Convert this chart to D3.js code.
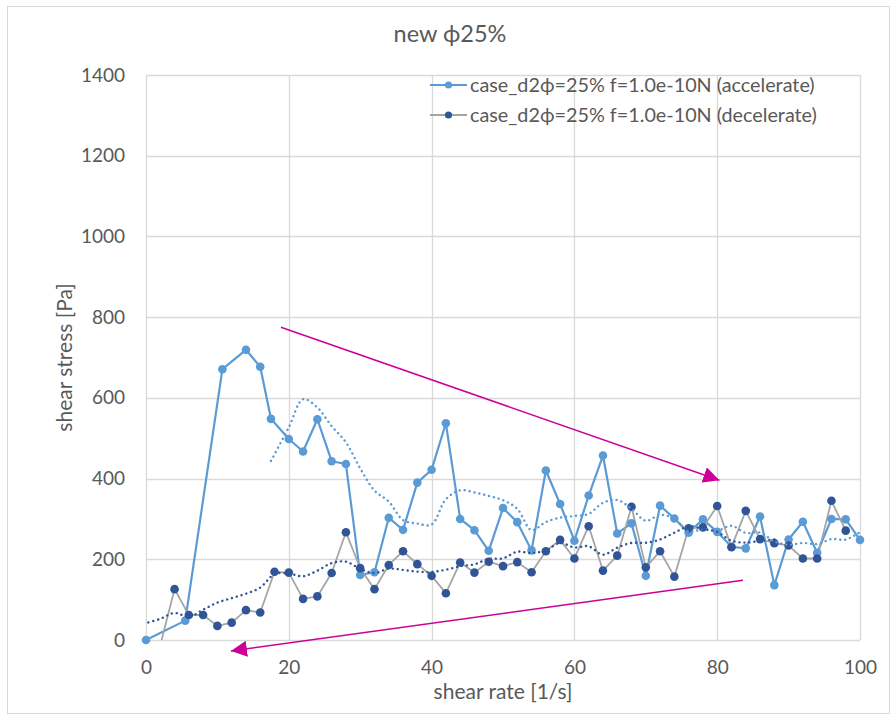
<!DOCTYPE html>
<html>
<head>
<meta charset="utf-8">
<script src="https://cdn.jsdelivr.net/npm/d3@7"></script>
<style>
  html, body { margin: 0; padding: 0; background: #fff; }
  svg text { font-family: Lato, "Open Sans", sans-serif; fill: #595959; }
</style>
</head>
<body>
<svg id="chart" width="891" height="715"></svg>
<script>
// Shear rate [1/s] and shear stress [Pa], accelerate run (in run order)
const accelRate = [0, 5.5, 10.7, 14.0, 16.0, 17.5, 20, 22, 24, 26, 28, 30, 32, 34, 36, 38, 40, 42, 44, 46,
  48, 50, 52, 54, 56, 58, 60, 62, 64, 66, 68, 70, 72, 74, 76, 78, 80, 82, 84, 86, 88, 90, 92, 94, 96, 98, 100];
const accelStress = [0, 48, 671, 719, 677, 548, 498, 467, 547, 443, 436, 161, 168, 303, 273, 390, 422, 537, 300, 272,
  221, 327, 292, 222, 420, 337, 246, 358, 457, 264, 289, 159, 333, 301, 266, 299, 268, 231, 227, 306, 136, 249, 293, 216, 300, 299, 248];

// Decelerate run (in run order, high shear rate to low)
const decelRate = [98, 96, 94, 92, 90, 88, 86, 84, 82, 80, 78, 76, 74, 72, 70, 68, 66, 64, 62, 60,
  58, 56, 54, 52, 50, 48, 46, 44, 42, 40, 38, 36, 34, 32, 30, 28, 26, 24, 22, 20,
  18, 16, 14, 12, 10, 8, 6, 4, 2, 0];
const decelStress = [271, 345, 202, 202, 234, 240, 250, 320, 230, 332, 279, 277, 157, 220, 180, 330, 209, 172, 282, 202,
  248, 220, 168, 193, 183, 194, 167, 192, 116, 159, 188, 220, 186, 126, 178, 267, 166, 108, 102, 167,
  169, 68, 74, 43, 35, 62, 62, 126, -13, -20];

const seriesNames = ["case_d2\u03d5=25% f=1.0e-10N (accelerate)", "case_d2\u03d5=25% f=1.0e-10N (decelerate)"];
const chartTitle = "new \u03d525%";
const xTitle = "shear rate [1/s]";
const yTitle = "shear stress [Pa]";
const xTicks = [0, 20, 40, 60, 80, 100];
const yTicks = [0, 200, 400, 600, 800, 1000, 1200, 1400];
const maPeriod = 6;

// Annotation arrows, given in data units: [fromRate, fromStress, toRate, toStress]
const arrows = [
  [18.9, 775, 80.3, 396],
  [83.6, 148, 11.9, -27]
];

const accelColor = "#5B9BD5";
const decelMarker = "#2F5597";
const decelLine = "#A5A5A5";
const arrowColor = "#CC0099";

const svg = d3.select("#chart");
const plot = { left: 146, right: 860, top: 75, bottom: 640 };
const x = d3.scaleLinear().domain([0, 100]).range([plot.left, plot.right]);
const y = d3.scaleLinear().domain([0, 1400]).range([plot.bottom, plot.top]);

// chart frame
svg.append("rect").attr("x", 7.5).attr("y", 6.5).attr("width", 882).attr("height", 707)
  .attr("fill", "#fff").attr("stroke", "#D9D9D9").attr("stroke-width", 1);

// gridlines
const grid = svg.append("g");
grid.selectAll("line.h").data(yTicks).join("line")
  .attr("x1", plot.left).attr("x2", plot.right)
  .attr("y1", d => Math.round(y(d)) + 0.5).attr("y2", d => Math.round(y(d)) + 0.5)
  .attr("stroke", "#D9D9D9").attr("stroke-width", 1.3);
grid.selectAll("line.v").data(xTicks).join("line")
  .attr("y1", plot.top).attr("y2", plot.bottom)
  .attr("x1", d => Math.round(x(d)) + 0.5).attr("x2", d => Math.round(x(d)) + 0.5)
  .attr("stroke", "#D9D9D9").attr("stroke-width", 1.3);

// axes (labels only)
const yAxis = svg.append("g").attr("transform", `translate(${plot.left},0)`)
  .call(d3.axisLeft(y).tickValues(yTicks).tickFormat(d3.format("d")).tickSize(0).tickPadding(21));
const xAxis = svg.append("g").attr("transform", `translate(0,${plot.bottom})`)
  .call(d3.axisBottom(x).tickValues(xTicks).tickFormat(d3.format("d")).tickSize(0).tickPadding(21));
[yAxis, xAxis].forEach(a => {
  a.select(".domain").remove();
  a.selectAll("text").attr("font-size", 19).attr("fill", "#595959")
    .style("font-family", "Lato, 'Open Sans', sans-serif");
});

// titles
svg.append("text").attr("x", 450).attr("y", 42).attr("text-anchor", "middle")
  .attr("font-size", 23.5).text(chartTitle);
svg.append("text").attr("x", (plot.left + plot.right) / 2).attr("y", 699).attr("text-anchor", "middle")
  .attr("font-size", 21).text(xTitle);
svg.append("text").attr("transform", `translate(72,${(plot.top + plot.bottom) / 2}) rotate(-90)`)
  .attr("text-anchor", "middle").attr("font-size", 21).text(yTitle);

// clip for connecting lines
svg.append("defs").append("clipPath").attr("id", "plotClip")
  .append("rect").attr("x", plot.left - 2).attr("y", plot.top)
  .attr("width", plot.right - plot.left + 4).attr("height", plot.bottom - plot.top);

const accel = accelRate.map((r, i) => [r, accelStress[i]]);
const decel = decelRate.map((r, i) => [r, decelStress[i]]);
const [yMin, yMax] = y.domain();
const inRange = d => d[1] >= yMin && d[1] <= yMax;

// trailing moving average over the run order
function movingAverage(pts, n) {
  const out = [];
  for (let i = n - 1; i < pts.length; i++) {
    out.push([pts[i][0], d3.mean(pts.slice(i - n + 1, i + 1), p => p[1])]);
  }
  return out;
}

const line = d3.line().x(d => x(d[0])).y(d => y(d[1]));
const smooth = d3.line().x(d => x(d[0])).y(d => y(d[1])).curve(d3.curveCatmullRom.alpha(0.5));

const lines = svg.append("g").attr("clip-path", "url(#plotClip)");
const marks = svg.append("g");

// accelerate series
lines.append("path").datum(accel).attr("d", line).attr("fill", "none")
  .attr("stroke", accelColor).attr("stroke-width", 2.2).attr("stroke-linejoin", "round");
marks.append("g").selectAll("circle").data(accel.filter(inRange)).join("circle")
  .attr("cx", d => x(d[0])).attr("cy", d => y(d[1])).attr("r", 4.3).attr("fill", accelColor);

// decelerate series
lines.append("path").datum(decel).attr("d", line).attr("fill", "none")
  .attr("stroke", decelLine).attr("stroke-width", 1.8).attr("stroke-linejoin", "round");
marks.append("g").selectAll("circle").data(decel.filter(inRange)).join("circle")
  .attr("cx", d => x(d[0])).attr("cy", d => y(d[1])).attr("r", 4.3).attr("fill", decelMarker);

// moving-average trendlines
const trends = svg.append("g").attr("clip-path", "url(#plotClip)");
trends.append("path").datum(movingAverage(accel, maPeriod)).attr("d", smooth).attr("fill", "none")
  .attr("stroke", accelColor).attr("stroke-width", 2.4).attr("stroke-linecap", "round")
  .attr("stroke-dasharray", "0.1 4.9");
trends.append("path").datum(movingAverage(decel, maPeriod)).attr("d", smooth).attr("fill", "none")
  .attr("stroke", decelMarker).attr("stroke-width", 2.4).attr("stroke-linecap", "round")
  .attr("stroke-dasharray", "0.1 4.9");

// annotation arrows
svg.select("defs").append("marker").attr("id", "arrowHead")
  .attr("markerUnits", "userSpaceOnUse").attr("markerWidth", 18).attr("markerHeight", 16)
  .attr("refX", 16).attr("refY", 8).attr("orient", "auto")
  .append("path").attr("d", "M0,0 L16,8 L0,16 Z").attr("fill", arrowColor);
svg.append("g").selectAll("line").data(arrows).join("line")
  .attr("x1", d => x(d[0])).attr("y1", d => y(d[1]))
  .attr("x2", d => x(d[2])).attr("y2", d => y(d[3]))
  .attr("stroke", arrowColor).attr("stroke-width", 1.5)
  .attr("marker-end", "url(#arrowHead)");

// legend
const legend = svg.append("g");
const legendRows = [
  { name: seriesNames[0], line: accelColor, marker: accelColor, y: 85 },
  { name: seriesNames[1], line: decelLine, marker: decelMarker, y: 115 }
];
legendRows.forEach(r => {
  legend.append("line").attr("x1", 430).attr("x2", 467).attr("y1", r.y).attr("y2", r.y)
    .attr("stroke", r.line).attr("stroke-width", 2);
  legend.append("circle").attr("cx", 448.5).attr("cy", r.y).attr("r", 3.6).attr("fill", r.marker);
  legend.append("text").attr("x", 470).attr("y", r.y).attr("dy", "0.35em")
    .attr("font-size", 19.8).text(r.name);
});
</script>
</body>
</html>
